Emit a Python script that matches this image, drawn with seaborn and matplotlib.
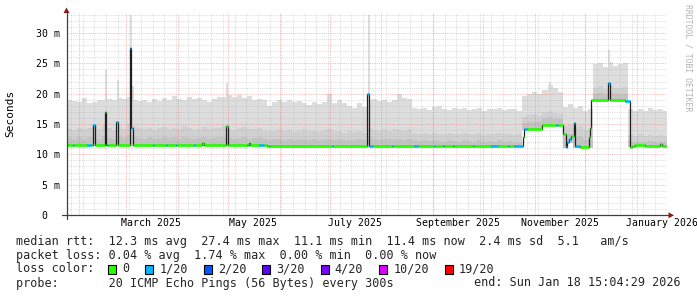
import numpy as np
import pandas as pd
import matplotlib
matplotlib.use("Agg")
import matplotlib.pyplot as plt
import matplotlib.dates as mdates
from matplotlib.patches import Rectangle, Polygon
from matplotlib.lines import Line2D
import seaborn as sns

# ---------------- data ----------------
START = pd.Timestamp("2025-01-24 14:00")   # left edge of the time axis
END = pd.Timestamp("2026-01-19 05:00")     # right edge of the time axis
SAMPLE_DAYS = 3.0                          # smoke consolidation step (days)

# smoke (distribution of the 20 pings), one value per 3-day sample, in ms
smoke_top = [
    19.0, 18.8, 18.6, 19.3, 18.5, 18.7, 18.9, 19.0, 19.2, 19.0,
    19.3, 19.1, 19.4, 19.0, 18.8, 19.0, 18.6, 19.1, 18.8, 19.3,
    19.0, 19.6, 19.2, 19.0, 19.4, 19.1, 19.3, 18.9, 18.6, 19.2,
    19.4, 19.5, 19.8, 19.5, 19.7, 19.3, 19.6, 19.0, 19.2, 18.9,
    17.9, 18.6, 18.9, 18.7, 19.0, 18.6, 18.8, 18.4, 18.1, 18.7,
    18.3, 18.6, 19.9, 18.5, 19.0, 18.4, 18.0, 17.6, 18.4, 17.8,
    18.9, 19.1, 18.8, 19.0, 18.7, 18.9, 19.9, 19.3, 19.1, 17.6,
    17.4, 17.7, 17.3, 17.8, 18.0, 17.5, 17.3, 17.6, 17.4, 17.7,
    17.3, 17.5, 17.6, 17.2, 17.5, 17.4, 17.7, 17.3, 17.5, 17.4,
    17.2, 19.6, 19.9, 20.2, 20.0, 20.6, 21.4, 21.0, 20.3, 17.8,
    18.3, 17.6, 17.9, 17.2, 17.5, 24.9, 25.1, 24.4, 25.3, 24.6,
    24.9, 25.1, 17.4, 17.1, 17.5, 17.2, 17.6, 17.3, 17.5, 17.2,
]
smoke_mid = [
    14.2, 14.0, 14.4, 14.1, 14.3, 14.6, 14.2, 14.8, 14.3, 14.0,
    14.5, 14.2, 15.0, 14.6, 14.3, 14.1, 14.4, 14.0, 14.3, 14.5,
    14.2, 14.4, 14.1, 14.6, 14.3, 14.0, 14.2, 14.5, 14.1, 14.3,
    14.4, 14.6, 14.2, 14.0, 14.3, 14.5, 14.1, 14.2, 14.4, 14.0,
    13.8, 13.9, 14.1, 13.8, 14.0, 13.7, 13.9, 14.1, 13.8, 13.9,
    13.7, 14.0, 14.2, 13.8, 13.9, 13.6, 13.8, 13.7, 13.9, 13.6,
    14.4, 14.0, 13.8, 14.1, 13.9, 14.2, 14.0, 13.8, 14.1, 13.5,
    13.4, 13.6, 13.3, 13.5, 13.4, 13.3, 13.6, 13.4, 13.3, 13.5,
    13.4, 13.3, 13.5, 13.2, 13.4, 13.3, 13.5, 13.3, 13.4, 13.2,
    13.3, 16.2, 16.5, 16.6, 16.4, 16.9, 17.1, 16.8, 16.6, 14.6,
    14.8, 14.3, 14.6, 14.0, 14.2, 21.0, 21.3, 20.8, 21.2, 21.0,
    20.9, 21.1, 13.2, 13.0, 13.3, 13.1, 13.2, 13.0, 13.2, 13.1,
]
smoke_dark = [
    12.7, 12.6, 12.8, 12.6, 12.9, 12.7, 12.6, 13.0, 12.7, 12.6,
    12.8, 12.7, 13.2, 12.9, 12.7, 12.6, 12.8, 12.6, 12.7, 12.9,
    12.7, 12.8, 12.6, 12.9, 12.7, 12.6, 12.7, 12.8, 12.6, 12.7,
    12.8, 12.9, 12.7, 12.6, 12.7, 12.8, 12.6, 12.7, 12.8, 12.6,
    12.4, 12.5, 12.6, 12.4, 12.5, 12.3, 12.5, 12.6, 12.4, 12.5,
    12.3, 12.5, 12.6, 12.4, 12.5, 12.3, 12.4, 12.3, 12.5, 12.3,
    12.8, 12.5, 12.4, 12.6, 12.5, 12.6, 12.5, 12.4, 12.6, 12.3,
    12.2, 12.3, 12.2, 12.3, 12.2, 12.1, 12.3, 12.2, 12.1, 12.3,
    12.2, 12.1, 12.3, 12.1, 12.2, 12.1, 12.3, 12.1, 12.2, 12.1,
    12.1, 15.2, 15.3, 15.4, 15.3, 16.0, 16.1, 15.9, 15.8, 13.0,
    13.3, 12.8, 13.0, 12.4, 12.6, 19.9, 20.1, 19.8, 20.2, 19.9,
    19.8, 20.0, 12.2, 12.0, 12.1, 12.0, 12.2, 12.0, 12.1, 12.0,
]
smoke_bottom = (
    [11.4] * 40 + [11.25] * 51
    + [13.95, 13.95, 13.95, 13.95, 14.75, 14.75, 14.75, 14.75]
    + [11.1, 11.9, 11.1, 11.1, 11.1, 11.1]
    + [18.9] * 7
    + [11.25] * 8
)
# narrow smoke spikes: day offset from START, top (ms), bottom (ms)
spike_days = [22.8, 29.9, 37.9, 39.2, 95.6, 180.5, 289.1, 324.4]
spike_top = [23.9, 22.3, 33.0, 21.2, 21.7, 33.0, 22.0, 27.2]
spike_bottom = [11.4, 11.4, 11.4, 11.4, 11.4, 11.25, 14.75, 18.9]

# median rtt as step segments: start day offset, median (ms), lost pings of 20
median_days = [
    0.0, 3.6, 4.2, 12.0, 15.0, 15.6, 16.5, 22.5, 23.4, 24.0, 24.6, 29.5, 30.4,
    37.6, 38.5, 39.4, 51.4, 52.0, 59.2, 59.8, 65.2, 65.8, 76.3, 76.9, 81.1,
    82.0, 95.3, 96.2, 107.9, 108.5, 108.8, 109.7, 114.8, 117.8, 119.6, 120.8,
    121.6, 159.0, 159.6, 180.0, 180.9, 183.3, 195.0, 195.6, 208.0, 210.4,
    220.0, 220.6, 225.1, 225.7, 231.1, 231.7, 243.1, 243.7, 254.2, 258.4,
    264.2, 264.8, 268.1, 273.3, 274.1, 275.5, 284.9, 293.3, 294.5, 297.3,
    298.9, 299.9, 301.1, 302.3, 303.7, 304.7, 307.3, 312.7, 313.3, 313.9,
    324.3, 325.3, 334.4, 337.4, 338.5, 340.2, 346.2, 355.2, 356.4,
]
median_ms = [
    11.55, 11.55, 11.55, 11.55, 11.55, 14.8, 11.55, 16.9, 11.55, 11.55, 11.55,
    15.4, 11.55, 27.5, 14.4, 11.55, 11.55, 11.55, 11.55, 11.55, 11.55, 11.55,
    11.55, 11.55, 11.9, 11.55, 14.6, 11.55, 11.55, 11.55, 11.9, 11.55, 11.55,
    11.55, 11.3, 11.4, 11.4, 11.4, 11.4, 19.9, 11.4, 11.4, 11.4, 11.4, 11.4,
    11.4, 11.4, 11.4, 11.4, 11.4, 11.4, 11.4, 11.4, 11.4, 11.4, 11.4, 11.4,
    11.4, 11.4, 12.8, 14.1, 14.1, 14.9, 14.9, 14.9, 13.4, 11.2, 12.1, 12.6,
    13.0, 15.2, 11.4, 11.2, 12.9, 14.3, 19.0, 21.7, 19.0, 18.8, 11.2, 11.4,
    11.6, 11.4, 11.7, 11.4,
]
median_loss = [
    0, 1, 0, 1, 0, 1, 0, 0, 0, 1, 0, 1, 0, 1, 1, 0, 1, 0, 1, 0, 1, 0, 1, 0, 0,
    0, 0, 0, 1, 0, 0, 0, 1, 0, 0, 1, 0, 1, 0, 1, 1, 0, 1, 0, 1, 0, 1, 0, 1, 0,
    1, 0, 1, 0, 1, 0, 1, 0, 1, 0, 1, 0, 0, 1, 0, 0, 1, 1, 1, 0, 1, 1, 0, 0, 0,
    0, 1, 0, 1, 0, 0, 0, 0, 0, 0,
]

loss_labels = ["0", "1/20", "2/20", "3/20", "4/20", "10/20", "19/20"]
loss_steps = [0, 1, 2, 3, 4, 10, 19]
loss_colors = ["#26ff00", "#00b8ff", "#0059ff", "#5e00ff", "#7e00ff", "#dd00ff", "#ff0000"]

y_ticks = [0, 5, 10, 15, 20, 25, 30]
y_tick_labels = ["0  ", "5 m", "10 m", "15 m", "20 m", "25 m", "30 m"]
x_label_months = ["2025-03-01", "2025-05-01", "2025-07-01", "2025-09-01", "2025-11-01", "2026-01-01"]
x_label_texts = ["March 2025", "May 2025", "July 2025", "September 2025", "November 2025", "January 2026"]

stats_line1 = "median rtt:  12.3 ms avg  27.4 ms max  11.1 ms min  11.4 ms now  2.4 ms sd  5.1   am/s"
stats_line2 = "packet loss: 0.04 % avg  1.74 % max  0.00 % min  0.00 % now"
probe_text = "probe:       20 ICMP Echo Pings (56 Bytes) every 300s"
end_text = "end: Sun Jan 18 15:04:29 2026"
watermark = "RRDTOOL / TOBI OETIKER"

# ---------------- drawing ----------------
sns.set_style("white")
plt.rcParams["font.family"] = ["DejaVu Sans Mono", "DejaVu Sans"]

W, H, DPI = 697, 297, 100
fig = plt.figure(figsize=(W / DPI, H / DPI), dpi=DPI, facecolor="white")


def fx(x):
    return x / W


def fy(y):
    return 1 - y / H


ax = fig.add_axes([fx(67), fy(215), 600 / W, 202 / H])
ax.set_facecolor("white")
t0 = mdates.date2num(START)
t1 = mdates.date2num(END)

n = len(smoke_top)
xs = t0 + np.arange(n + 1) * SAMPLE_DAYS
xs[-1] = min(xs[-1], t1)


def ext(a):
    a = list(a)
    return np.array(a + [a[-1]])


top = ext(smoke_top)
mid = ext(smoke_mid)
dark = ext(smoke_dark)
bot = ext(smoke_bottom)

C_LIGHT, C_MID, C_DARK = "#dddddd", "#d0d0d0", "#c3c3c3"
ax.fill_between(xs, bot, top, step="post", color=C_LIGHT, lw=0, zorder=1)
ax.fill_between(xs, bot, mid, step="post", color=C_MID, lw=0, zorder=2)
ax.fill_between(xs, bot, dark, step="post", color=C_DARK, lw=0, zorder=3)

sd = t0 + np.array(spike_days)
ax.bar(sd, np.array(spike_top) - np.array(spike_bottom), bottom=spike_bottom,
       width=1.0, color=C_LIGHT, lw=0, align="edge", zorder=1)

# grid (dotted, drawn over the smoke)
minor_col = (0.70, 0.70, 0.70, 0.55)
major_col = (0.92, 0.35, 0.35, 0.50)
DOT = (0, (1, 1.2))
for v in range(1, 34):
    if v % 5:
        ax.axhline(v, color=minor_col, lw=0.6, ls=DOT, zorder=4)
for v in (5, 10, 15, 20, 25, 30):
    ax.axhline(v, color=major_col, lw=0.6, ls=DOT, zorder=4)
for d in pd.date_range(START.normalize(), END, freq="W-MON"):
    ax.axvline(mdates.date2num(d), color=minor_col, lw=0.6, ls=DOT, zorder=4)
for d in pd.date_range(START.normalize(), END, freq="MS"):
    ax.axvline(mdates.date2num(d), color=major_col, lw=0.6, ls=DOT, zorder=4)

# median line (dark) and loss coloured bands
mdays = np.array(median_days + [(END - START) / pd.Timedelta(days=1)])
mx = t0 + mdays
my = np.array(median_ms + [median_ms[-1]])
med_df = pd.DataFrame({"t": mx, "ms": my})
sns.lineplot(data=med_df, x="t", y="ms", drawstyle="steps-post", color="#202020",
             lw=0.9, estimator=None, sort=False, ax=ax, zorder=5, legend=False)
col_of = dict(zip(loss_steps, loss_colors))
ax.hlines(my[:-1], mx[:-1], mx[1:], colors=[col_of[l] for l in median_loss],
          lw=1.9, zorder=6, capstyle="butt")

ax.set_xlim(t0, t1)
ax.set_ylim(0, 33.3)
for s in ax.spines.values():
    s.set_visible(False)
ax.set_xlabel("")
ax.set_ylabel("")

ax.set_yticks(y_ticks)
ax.set_yticklabels(y_tick_labels, fontsize=7.1, color="#000000")
label_pos = [mdates.date2num(pd.Timestamp(m) + pd.Timedelta(days=15)) for m in x_label_months]
ax.set_xticks(label_pos)
ax.set_xticklabels(x_label_texts, fontsize=7.1, color="#000000")
ax.tick_params(axis="y", length=0, pad=5.0)
ax.tick_params(axis="x", length=0, pad=2.5)

# axes lines with arrows
axis_col = "#404040"
arrow_col = "#8b1a1a"
fig.add_artist(Line2D([fx(66.5), fx(66.5)], [fy(219), fy(12)], transform=fig.transFigure,
                      color=axis_col, lw=0.9))
fig.add_artist(Line2D([fx(62), fx(669)], [fy(215.3), fy(215.3)], transform=fig.transFigure,
                      color=axis_col, lw=0.9))
fig.add_artist(Polygon([[fx(66.5), fy(7.5)], [fx(63.5), fy(13)], [fx(69.5), fy(13)]],
                       closed=True, transform=fig.transFigure, color=arrow_col, lw=0))
fig.add_artist(Polygon([[fx(674), fy(215.3)], [fx(668.5), fy(212.3)], [fx(668.5), fy(218.3)]],
                       closed=True, transform=fig.transFigure, color=arrow_col, lw=0))

# unit label and watermark
fig.text(fx(10.5), fy(113), "Seconds", rotation=90, ha="center", va="center",
         fontsize=8.0, color="#000000")
fig.text(fx(688), fy(4), watermark, rotation=-90, ha="center", va="top",
         fontsize=5.9, color="#b4b4b4")

# legend
LEG_FS = 8.43
CHAR = 7.05
fig.text(fx(16.4), fy(241), stats_line1, ha="left", va="center", fontsize=LEG_FS)
fig.text(fx(16.4), fy(255), stats_line2, ha="left", va="center", fontsize=LEG_FS)
fig.text(fx(16.4), fy(269), "loss color:", ha="left", va="center", fontsize=LEG_FS)
bx = 108.0
for lab, col in zip(loss_labels, loss_colors):
    fig.add_artist(Rectangle((fx(bx), fy(273.5)), 8 / W, 9 / H, transform=fig.transFigure,
                             facecolor=col, edgecolor="#000000", lw=0.8))
    fig.text(fx(bx + 13.8), fy(269), lab, ha="left", va="center", fontsize=LEG_FS)
    bx = bx + len(lab) * CHAR + 30.3
fig.text(fx(16.4), fy(283), probe_text, ha="left", va="center", fontsize=LEG_FS)
fig.text(fx(681), fy(283), end_text, ha="right", va="center", fontsize=LEG_FS)

fig.savefig("out.png", dpi=DPI, facecolor="white")
